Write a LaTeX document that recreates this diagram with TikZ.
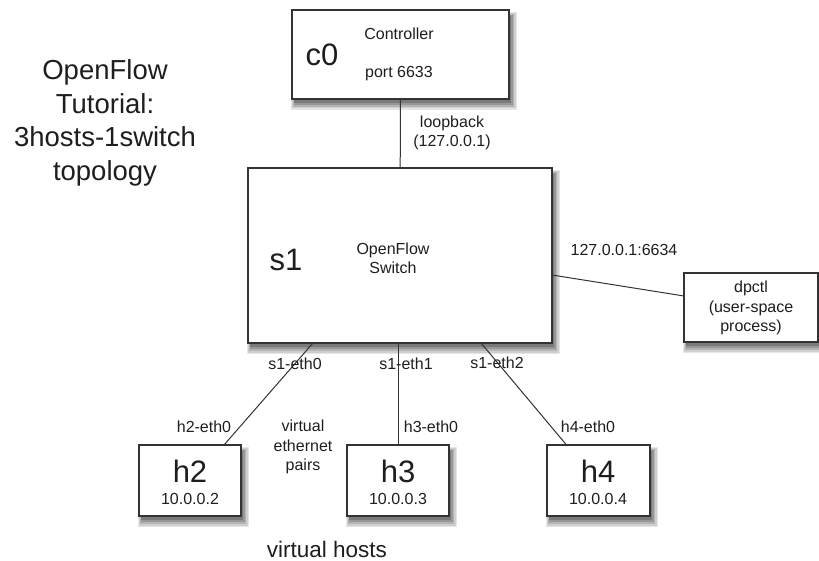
\documentclass[tikz,border=0pt]{standalone}
\usepackage{fontspec}
\setmainfont{Liberation Sans}
\usetikzlibrary{fit}
\definecolor{edge}{HTML}{333333}
\definecolor{ink}{HTML}{1E1E1E}
\definecolor{sha}{HTML}{E6E6E6}
\definecolor{shb}{HTML}{CFCFCF}
\definecolor{shc}{HTML}{B4B4B4}
\definecolor{shd}{HTML}{979797}
\definecolor{she}{HTML}{7A7A7A}
\begin{document}
\begin{tikzpicture}[x=1pt,y=-1pt,
  box/.style={draw=edge, line width=1.4pt, fill=white, inner sep=0pt, outer sep=0pt},
  link/.style={draw=edge, line width=1pt},
  small/.style={text=ink, font=\fontsize{16}{19.5}\selectfont, align=center, inner sep=0pt},
  big/.style={text=ink, font=\fontsize{31}{36}\selectfont, inner sep=0pt},
  title/.style={text=ink, font=\fontsize{27.5}{33.5}\selectfont, align=center, inner sep=0pt},
  mid/.style={text=ink, font=\fontsize{22.5}{26}\selectfont, inner sep=0pt}]
\useasboundingbox (0,0) rectangle (819,561);
% box corners
\coordinate (c0nw) at (292,10);     \coordinate (c0se) at (509,99);
\coordinate (s1nw) at (248,168);    \coordinate (s1se) at (552,343);
\coordinate (dpnw) at (684,273);    \coordinate (dpse) at (818,342);
\coordinate (h2nw) at (139,445);    \coordinate (h2se) at (241,516);
\coordinate (h3nw) at (347,445);    \coordinate (h3se) at (449,516);
\coordinate (h4nw) at (547,445);    \coordinate (h4se) at (650,516);
% soft shadows (layered grey rectangles)
\fill[sha] ([xshift=-1pt,yshift=-2pt]c0nw) rectangle ([xshift=8pt,yshift=-11pt]c0se);
\fill[shb] ([xshift=0pt,yshift=-3pt]c0nw) rectangle ([xshift=6.5pt,yshift=-9.5pt]c0se);
\fill[shc] ([xshift=1pt,yshift=-4pt]c0nw) rectangle ([xshift=5pt,yshift=-8pt]c0se);
\fill[shd] ([xshift=1.5pt,yshift=-5pt]c0nw) rectangle ([xshift=3.5pt,yshift=-6pt]c0se);
\fill[she] ([xshift=2pt,yshift=-6pt]c0nw) rectangle ([xshift=2pt,yshift=-4pt]c0se);
\fill[sha] ([xshift=-1pt,yshift=-2pt]s1nw) rectangle ([xshift=8pt,yshift=-11pt]s1se);
\fill[shb] ([xshift=0pt,yshift=-3pt]s1nw) rectangle ([xshift=6.5pt,yshift=-9.5pt]s1se);
\fill[shc] ([xshift=1pt,yshift=-4pt]s1nw) rectangle ([xshift=5pt,yshift=-8pt]s1se);
\fill[shd] ([xshift=1.5pt,yshift=-5pt]s1nw) rectangle ([xshift=3.5pt,yshift=-6pt]s1se);
\fill[she] ([xshift=2pt,yshift=-6pt]s1nw) rectangle ([xshift=2pt,yshift=-4pt]s1se);
\fill[sha] ([xshift=-1pt,yshift=-2pt]dpnw) rectangle ([xshift=8pt,yshift=-11pt]dpse);
\fill[shb] ([xshift=0pt,yshift=-3pt]dpnw) rectangle ([xshift=6.5pt,yshift=-9.5pt]dpse);
\fill[shc] ([xshift=1pt,yshift=-4pt]dpnw) rectangle ([xshift=5pt,yshift=-8pt]dpse);
\fill[shd] ([xshift=1.5pt,yshift=-5pt]dpnw) rectangle ([xshift=3.5pt,yshift=-6pt]dpse);
\fill[she] ([xshift=2pt,yshift=-6pt]dpnw) rectangle ([xshift=2pt,yshift=-4pt]dpse);
\fill[sha] ([xshift=-1pt,yshift=-2pt]h2nw) rectangle ([xshift=8pt,yshift=-11pt]h2se);
\fill[shb] ([xshift=0pt,yshift=-3pt]h2nw) rectangle ([xshift=6.5pt,yshift=-9.5pt]h2se);
\fill[shc] ([xshift=1pt,yshift=-4pt]h2nw) rectangle ([xshift=5pt,yshift=-8pt]h2se);
\fill[shd] ([xshift=1.5pt,yshift=-5pt]h2nw) rectangle ([xshift=3.5pt,yshift=-6pt]h2se);
\fill[she] ([xshift=2pt,yshift=-6pt]h2nw) rectangle ([xshift=2pt,yshift=-4pt]h2se);
\fill[sha] ([xshift=-1pt,yshift=-2pt]h3nw) rectangle ([xshift=8pt,yshift=-11pt]h3se);
\fill[shb] ([xshift=0pt,yshift=-3pt]h3nw) rectangle ([xshift=6.5pt,yshift=-9.5pt]h3se);
\fill[shc] ([xshift=1pt,yshift=-4pt]h3nw) rectangle ([xshift=5pt,yshift=-8pt]h3se);
\fill[shd] ([xshift=1.5pt,yshift=-5pt]h3nw) rectangle ([xshift=3.5pt,yshift=-6pt]h3se);
\fill[she] ([xshift=2pt,yshift=-6pt]h3nw) rectangle ([xshift=2pt,yshift=-4pt]h3se);
\fill[sha] ([xshift=-1pt,yshift=-2pt]h4nw) rectangle ([xshift=8pt,yshift=-11pt]h4se);
\fill[shb] ([xshift=0pt,yshift=-3pt]h4nw) rectangle ([xshift=6.5pt,yshift=-9.5pt]h4se);
\fill[shc] ([xshift=1pt,yshift=-4pt]h4nw) rectangle ([xshift=5pt,yshift=-8pt]h4se);
\fill[shd] ([xshift=1.5pt,yshift=-5pt]h4nw) rectangle ([xshift=3.5pt,yshift=-6pt]h4se);
\fill[she] ([xshift=2pt,yshift=-6pt]h4nw) rectangle ([xshift=2pt,yshift=-4pt]h4se);
% boxes
\node[box, fit=(c0nw)(c0se)] (c0) {};
\node[box, fit=(s1nw)(s1se)] (s1) {};
\node[box, fit=(dpnw)(dpse)] (dpctl) {};
\node[box, fit=(h2nw)(h2se)] (h2) {};
\node[box, fit=(h3nw)(h3se)] (h3) {};
\node[box, fit=(h4nw)(h4se)] (h4) {};
% connectors
\draw[link] (c0) -- (s1);
\draw[link] ([yshift=-19.5pt]s1.east) -- ([yshift=11.5pt]dpctl.west);
\draw[link] ([xshift=-87pt]s1.south) -- ([xshift=34pt]h2.north);
\draw[link] (s1.south -| h3.north) -- (h3.north);
\draw[link] ([xshift=81pt]s1.south) -- ([xshift=-32pt]h4.north);
% title
\node[title] (ttl) at (105,123) {OpenFlow\\Tutorial:\\3hosts-1switch\\topology};
% box texts
\node[big] (c0lbl) at (322,55) {c0};
\node[small] (ctrl) at (399,34) {Controller};
\node[small] (port) at (399,74) {port 6633};
\node[big] (s1lbl) at (286,260) {s1};
\node[small] (ofs) at (393,258.5) {OpenFlow\\Switch};
\node[small] (dpt) at (751,308) {dpctl\\(user-space\\process)};
\node[big] (h2lbl) at (190,471) {h2};
\node[small] (h2ip) at (190,498.5) {10.0.0.2};
\node[big] (h3lbl) at (398,471) {h3};
\node[small] (h3ip) at (398,498.5) {10.0.0.3};
\node[big] (h4lbl) at (598,471) {h4};
\node[small] (h4ip) at (598,498.5) {10.0.0.4};
% link labels
\node[small] (lb) at (452,133) {loopback\\(127.0.0.1)};
\node[small] (dpport) at (624,250) {127.0.0.1:6634};
\node[small] (e0) at (295,364) {s1-eth0};
\node[small] (e1) at (406,364) {s1-eth1};
\node[small] (e2) at (497,363) {s1-eth2};
\node[small] (h2e) at (204,427) {h2-eth0};
\node[small] (h3e) at (431,427) {h3-eth0};
\node[small] (h4e) at (588,427) {h4-eth0};
\node[small] (vep) at (303,447) {virtual\\ethernet\\pairs};
\node[mid] (vh) at (327,549) {virtual hosts};
\end{tikzpicture}
\end{document}
